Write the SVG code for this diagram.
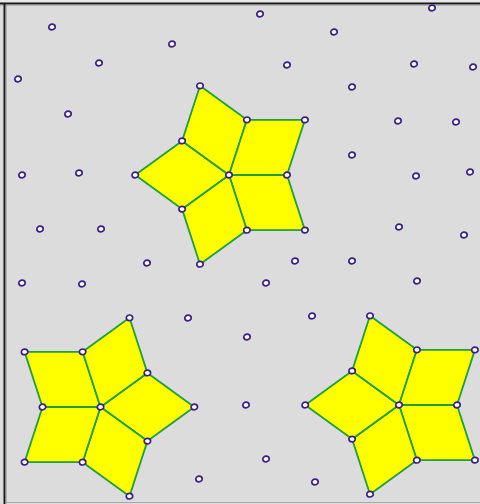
<svg xmlns="http://www.w3.org/2000/svg" xmlns:xlink="http://www.w3.org/1999/xlink" width="480" height="504" viewBox="0 0 480 504">
<style>
.r{fill:#ffff00;stroke:#1ea040;stroke-width:1.8;stroke-linejoin:round}
.d{fill:#ffffff;stroke:#3a1f8a;stroke-width:1.7}
</style>
<defs><ellipse id="p" cx="0" cy="0" rx="3.2" ry="2.8" class="d"/></defs>
<rect x="0" y="0" width="480" height="504" fill="#dcdcdc"/>
<rect x="0" y="0" width="480" height="2" fill="#e8e8e8"/>
<line x1="0" y1="3.5" x2="480" y2="3.5" stroke="#1a1a1a" stroke-width="2"/>
<line x1="0" y1="5" x2="480" y2="5" stroke="#8a8a8a" stroke-width="1"/>
<line x1="4.5" y1="3" x2="4.5" y2="504" stroke="#1a1a1a" stroke-width="2"/>
<line x1="6" y1="5" x2="6" y2="504" stroke="#8a8a8a" stroke-width="1"/>
<line x1="6" y1="502.5" x2="480" y2="502.5" stroke="#a8a8a8" stroke-width="1"/>
<g id="star1">
<polygon class="r" points="229,175 287,175 304.9,230.1 246.9,230.2"/>
<polygon class="r" points="229,175 246.9,230.2 200,264.2 182.1,209.1"/>
<polygon class="r" points="229,175 182.1,209.1 135.2,175 182.1,140.9"/>
<polygon class="r" points="229,175 182.1,140.9 200,85.8 246.9,119.8"/>
<polygon class="r" points="229,175 246.9,119.8 304.9,119.9 287,175"/>
</g>
<g id="star2">
<polygon class="r" points="100.5,407 147.4,441.1 194.3,407 147.4,372.9"/>
<polygon class="r" points="100.5,407 82.6,462.2 129.5,496.2 147.4,441.1"/>
<polygon class="r" points="100.5,407 42.5,407 24.6,462.1 82.6,462.2"/>
<polygon class="r" points="100.5,407 82.6,351.8 24.6,351.9 42.5,407"/>
<polygon class="r" points="100.5,407 147.4,372.9 129.5,317.8 82.6,351.8"/>
</g>
<g id="star3">
<polygon class="r" points="399,405 457,405 474.9,460.1 416.9,460.2"/>
<polygon class="r" points="399,405 416.9,460.2 370,494.2 352.1,439.1"/>
<polygon class="r" points="399,405 352.1,439.1 305.2,405 352.1,370.9"/>
<polygon class="r" points="399,405 352.1,370.9 370,315.8 416.9,349.8"/>
<polygon class="r" points="399,405 416.9,349.8 474.9,349.9 457,405"/>
</g>
<g id="vertices">
<use xlink:href="#p" x="229" y="175"/><use xlink:href="#p" x="287" y="175"/><use xlink:href="#p" x="246.9" y="230.2"/><use xlink:href="#p" x="182.1" y="209.1"/><use xlink:href="#p" x="182.1" y="140.9"/><use xlink:href="#p" x="246.9" y="119.8"/>
<use xlink:href="#p" x="304.9" y="230.1"/><use xlink:href="#p" x="200" y="264.2"/><use xlink:href="#p" x="135.2" y="175"/><use xlink:href="#p" x="200" y="85.8"/><use xlink:href="#p" x="304.9" y="119.9"/>
<use xlink:href="#p" x="100.5" y="407"/><use xlink:href="#p" x="147.4" y="441.1"/><use xlink:href="#p" x="82.6" y="462.2"/><use xlink:href="#p" x="42.5" y="407"/><use xlink:href="#p" x="82.6" y="351.8"/><use xlink:href="#p" x="147.4" y="372.9"/>
<use xlink:href="#p" x="194.3" y="407"/><use xlink:href="#p" x="129.5" y="496.2"/><use xlink:href="#p" x="24.6" y="462.1"/><use xlink:href="#p" x="24.6" y="351.9"/><use xlink:href="#p" x="129.5" y="317.8"/>
<use xlink:href="#p" x="399" y="405"/><use xlink:href="#p" x="457" y="405"/><use xlink:href="#p" x="416.9" y="460.2"/><use xlink:href="#p" x="352.1" y="439.1"/><use xlink:href="#p" x="352.1" y="370.9"/><use xlink:href="#p" x="416.9" y="349.8"/>
<use xlink:href="#p" x="474.9" y="460.1"/><use xlink:href="#p" x="370" y="494.2"/><use xlink:href="#p" x="305.2" y="405"/><use xlink:href="#p" x="370" y="315.8"/><use xlink:href="#p" x="474.9" y="349.9"/>
</g>
<g id="points">
<use xlink:href="#p" x="52" y="27"/><use xlink:href="#p" x="172" y="44"/><use xlink:href="#p" x="99" y="63"/><use xlink:href="#p" x="18" y="79"/><use xlink:href="#p" x="68" y="114"/>
<use xlink:href="#p" x="260" y="14"/><use xlink:href="#p" x="432" y="8"/><use xlink:href="#p" x="334" y="32"/><use xlink:href="#p" x="287" y="65"/><use xlink:href="#p" x="414" y="64"/><use xlink:href="#p" x="473" y="67"/>
<use xlink:href="#p" x="352" y="87"/><use xlink:href="#p" x="398" y="121"/><use xlink:href="#p" x="456" y="122"/><use xlink:href="#p" x="352" y="155"/>
<use xlink:href="#p" x="22" y="175"/><use xlink:href="#p" x="79" y="173"/><use xlink:href="#p" x="416" y="176"/><use xlink:href="#p" x="470" y="172"/>
<use xlink:href="#p" x="40" y="229"/><use xlink:href="#p" x="101" y="229"/><use xlink:href="#p" x="399" y="227"/><use xlink:href="#p" x="464" y="235"/>
<use xlink:href="#p" x="147" y="263"/><use xlink:href="#p" x="295" y="261"/><use xlink:href="#p" x="352" y="261"/>
<use xlink:href="#p" x="22" y="283"/><use xlink:href="#p" x="82" y="284"/><use xlink:href="#p" x="266" y="283"/><use xlink:href="#p" x="417" y="281"/>
<use xlink:href="#p" x="188" y="318"/><use xlink:href="#p" x="312" y="316"/><use xlink:href="#p" x="247" y="337"/>
<use xlink:href="#p" x="246" y="405"/><use xlink:href="#p" x="266" y="459"/><use xlink:href="#p" x="199" y="479"/><use xlink:href="#p" x="315" y="482"/>
</g>
</svg>
